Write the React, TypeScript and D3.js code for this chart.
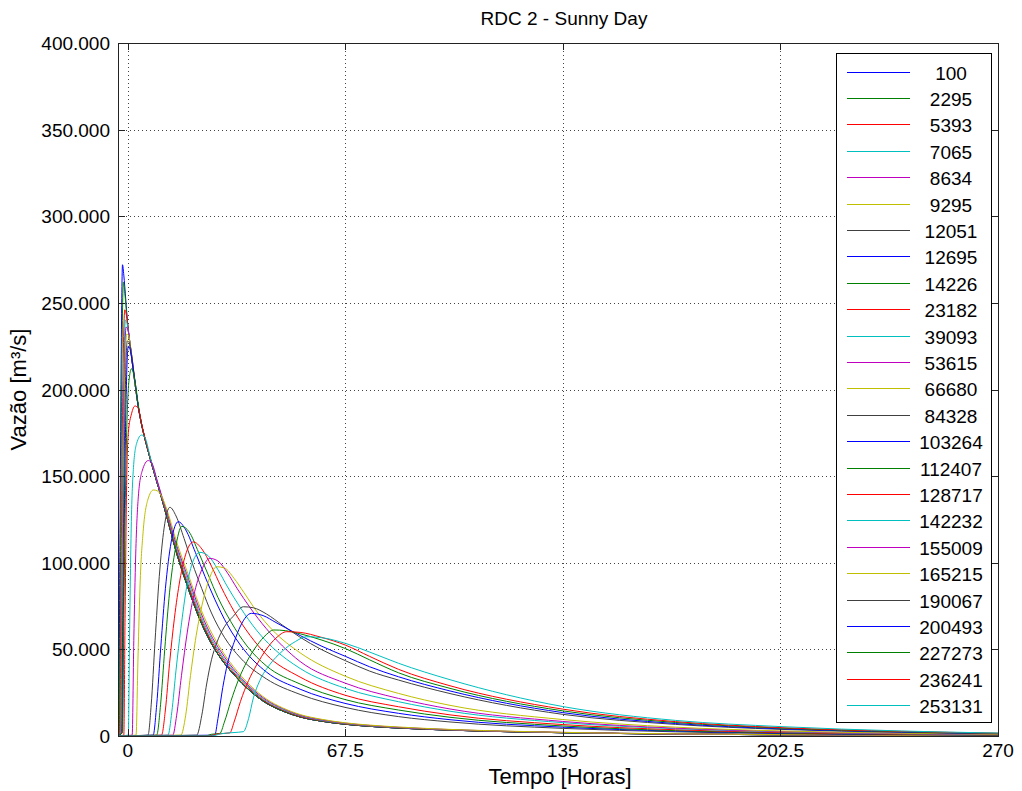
import React from "react";
import * as d3 from "d3";

type P = [number, number];

const seriesNames = ["100","2295","5393","7065","8634","9295","12051","12695","14226","23182","39093","53615","66680","84328","103264","112407","128717","142232","155009","165215","190067","200493","227273","236241","253131"];
const lineColors = ["#0000ff","#008000","#ff0000","#00bfbf","#bf00bf","#bfbf00","#404040"];
const xTicks = [0, 67.5, 135, 202.5, 270];
const xTickLabels = ["0", "67.5", "135", "202.5", "270"];
const yTicks = [0, 50, 100, 150, 200, 250, 300, 350, 400];
const yTickLabels = ["0", "50.000", "100.000", "150.000", "200.000", "250.000", "300.000", "350.000", "400.000"];

// common recession read from the thick bundle
const envelope: P[] = [[0,238],[1,222],[2.3,203],[3.3,190],[4.3,180],[5.5,170.5],[7,160],[9,147],[10.5,137.5],[12,127.5],[15.2,105.5],[19.3,82.5],[22,69],[25.5,55],[29,44.5],[32.7,36],[38,26],[43,19],[48,14.5],[53.5,11],[60,8.6],[67.5,6.8],[75,5.6],[84,4.6],[100,3.4],[120,2.4],[135,1.9],[170,1.1],[203,0.7],[240,0.4],[270,0.25]];

const head1: P[] = [[-3,0],[-2.8,2],[-2.4,110],[-2,220],[-1.6,272],[-1.2,266],[-0.6,252]];
const head2: P[] = [[-3,0],[-2.6,2],[-2.2,110],[-1.8,215],[-1.3,262],[-0.8,254],[-0.2,241]];
const head3: P[] = [[-3,0],[-2.4,2],[-2,100],[-1.5,200],[-0.9,246],[-0.4,243],[0.3,233]];
const head4: P[] = [[-3,0],[-2.2,2],[-1.8,95],[-1.3,195],[-0.7,240],[-0.2,238],[0.5,230],[1.3,218]];
const head5: P[] = [[-3,0],[-2.1,2],[-1.7,90],[-1.2,185],[-0.5,236],[0,235],[0.7,227],[1.5,216]];
const head6: P[] = [[-3,0],[-2,2],[-1.6,85],[-1.1,180],[-0.3,232],[0.3,231],[1,223],[1.7,213]];
const head7: P[] = [[-3,0],[-1.9,2],[-1.5,80],[-1,170],[-0.1,228],[0.5,227],[1.3,219],[2.3,204]];
const head8: P[] = [[-3,0],[-1.7,2],[-1.3,75],[-0.8,160],[0.2,225],[0.9,222],[1.6,213],[2.3,204.5]];
const head9: P[] = [[-3,0],[-1.6,2],[-1.2,70],[-0.6,150],[0.4,205],[1.2,212],[2.3,204.5],[3.3,191]];

const s10: P[] = [[-3,0],[-1.2,0.5],[-0.8,70],[-0.3,148],[0.2,175],[1.2,186],[2.3,190.5],[3.3,189],[4.3,180.5],[5.5,171],[7,160.5],[9,147.5],[10.5,138],[12,128.5],[15.2,107],[19.3,84.5],[22,71],[25.5,56.5],[29,46],[32.7,37],[38,27],[43,19.6],[48,15],[53.5,11.3],[60,8.9],[67.5,7],[75,5.8],[84,4.8],[100,3.5],[120,2.5],[135,2],[170,1.15],[203,0.72],[240,0.42],[270,0.27]];
const s11: P[] = [[-3,0],[0.2,0.5],[0.6,60],[1.1,120],[1.8,155],[2.8,169],[4.3,173.7],[5.3,172.5],[7,161],[9,148],[10.5,138.5],[12,129.5],[15.2,108.5],[19.3,86.5],[22,72.5],[25.5,58],[29,47],[32.7,38],[38,27.6],[43,20.2],[48,15.4],[53.5,11.7],[60,9.1],[67.5,7.2],[75,5.9],[84,4.9],[100,3.6],[120,2.55],[135,2],[170,1.2],[203,0.75],[240,0.45],[270,0.3]];
const s12: P[] = [[-3,0],[1.4,0.5],[1.9,55],[2.5,105],[3.3,138],[4.5,153],[6.4,159],[7.5,157.5],[9,148.5],[10.5,139],[12,130.5],[15.2,110],[19.3,88.5],[22,74.5],[25.5,59.5],[29,48.5],[32.7,39],[38,28.3],[43,20.8],[48,15.9],[53.5,12],[60,9.4],[67.5,7.4],[75,6.1],[84,5],[100,3.7],[120,2.6],[135,2.1],[170,1.2],[203,0.77],[240,0.46],[270,0.3]];
const s13: P[] = [[-3,0],[2.6,0.5],[3.2,45],[3.9,90],[4.8,118],[6.2,136],[8,142],[9.2,141.5],[10.5,138.5],[12,131.5],[15.2,112],[19.3,90.5],[22,76.5],[25.5,61.5],[29,50],[32.7,40.3],[38,29.2],[43,21.4],[48,16.3],[53.5,12.4],[60,9.7],[67.5,7.6],[75,6.3],[84,5.2],[100,3.8],[120,2.7],[135,2.1],[170,1.25],[203,0.8],[240,0.47],[270,0.3]];
const s14: P[] = [[-3,0],[6.3,0.5],[7.3,18],[8.5,55],[9.8,92],[11.3,120],[13.1,132],[15,127],[17.5,114],[20,100],[23,85],[26,71],[30,57],[35,45],[43,33],[53.5,24],[67.5,16.5],[84,11.2],[100,8.1],[135,4.4],[170,2.4],[203,1.4],[240,0.8],[270,0.5]];
const s15: P[] = [[-3,0],[7.9,0.5],[9,18],[10.3,52],[11.7,85],[13.5,112],[15.7,123.7],[18,119],[21,106],[24,92],[27,79],[31,64],[36,50],[43,37],[53.5,27],[67.5,18.8],[84,13.1],[100,9.4],[135,5.1],[170,2.8],[203,1.6],[240,0.9],[270,0.55]];
const s16: P[] = [[-3,0],[9,0.5],[10.2,18],[11.5,50],[13,83],[14.8,108],[16.8,121],[19,118],[22,106],[25,93],[28,80],[32,66],[37,52],[43,40.5],[53.5,30],[67.5,21],[84,15],[100,10.8],[135,5.8],[170,3.1],[203,1.8],[240,1],[270,0.6]];
const s17: P[] = [[-3,0],[10.5,0.5],[11.7,15],[13,42],[14.5,68],[16.2,90],[18.2,106],[20.4,112],[23,108],[26,98],[29,86],[33,72],[38,58],[43,47],[53.5,34],[67.5,23.5],[84,16.9],[100,12.2],[135,6.6],[170,3.6],[203,2],[240,1.1],[270,0.7]];
const s18: P[] = [[-3,0],[12.5,0.5],[13.7,14],[15,38],[16.5,62],[18.3,86],[20.3,101],[22.4,106],[25,104],[28,96],[31,86],[35,74],[40,61],[45,51],[53.5,39],[67.5,27.5],[84,19.8],[100,14.3],[135,7.7],[170,4.2],[203,2.4],[240,1.3],[270,0.8]];
const s19: P[] = [[-3,0],[14,0.5],[15.2,12],[16.7,35],[18.5,60],[20.5,81],[23,96],[25.5,102.5],[28,101],[31,94],[34,85],[38,74],[43,62],[48,52],[53.5,43],[67.5,30.5],[84,21.7],[100,15.6],[135,8.4],[170,4.5],[203,2.6],[240,1.4],[270,0.9]];
const s20: P[] = [[-3,0],[16.5,0.5],[18,12],[19.5,35],[21,55],[23,75],[25,89],[27.6,97.7],[30,97],[33,91],[36,83],[40,72],[45,61],[53.5,48],[67.5,34.5],[84,24.6],[100,17.7],[135,9.5],[170,5.1],[203,2.9],[240,1.6],[270,1]];
const s21: P[] = [[-3,0],[21.4,0.5],[23,12],[24.5,30],[26,44],[27.6,53.6],[30,63],[32.7,69],[35.9,74.6],[39,74],[43,70.5],[48,64],[53.5,57],[60,50],[67.5,43.5],[75,37.5],[84,32.3],[100,24.5],[135,12.5],[170,6.7],[203,3.8],[240,2.1],[270,1.3]];
const s22: P[] = [[-3,0],[27,0.5],[28,10],[29.5,28],[31,42],[33,54],[35,63.5],[38.4,70.8],[42,69.5],[46,65.5],[53.5,58],[60,52],[67.5,46],[75,40],[84,34.2],[100,26],[135,13.5],[170,7.2],[203,4.1],[240,2.3],[270,1.4]];
const s23: P[] = [[-3,0],[24,0],[26,1],[28.6,1.5],[30,8],[32,20],[34.5,33],[37,43],[40,52],[43,58.5],[45.2,61.2],[49,60.8],[53.5,59],[60,55.5],[67.5,50.5],[75,44],[84,36.5],[100,27.5],[135,14.5],[170,7.8],[203,4.5],[240,2.5],[270,1.5]];
const s24: P[] = [[-3,0],[25,0],[28,1.2],[31.7,1.8],[33,8],[35,20],[37.5,32],[40,41],[43,50],[46,56.5],[49.3,60.2],[53.5,59.8],[60,57],[67.5,52.5],[75,46],[84,38.5],[100,29],[135,15.5],[170,8.3],[203,4.8],[240,2.7],[270,1.6]];
const s25: P[] = [[-3,0],[26,0],[29,1.3],[33,2],[35.9,2.5],[37.5,10],[39,22],[41,32],[44,41],[48,49],[52,54.5],[55.5,57.3],[60,56.8],[67.5,53.5],[75,48.5],[84,42],[100,32.5],[135,17],[170,9],[203,5.4],[240,2.9],[270,1.7]];

const withEnvelope = (head: P[]): P[] => {
  const last = head[head.length - 1][0];
  return head.concat(envelope.filter((p) => p[0] > last + 0.2));
};

const allSeries: P[][] = [
  withEnvelope(head1), withEnvelope(head2), withEnvelope(head3), withEnvelope(head4),
  withEnvelope(head5), withEnvelope(head6), withEnvelope(head7), withEnvelope(head8),
  withEnvelope(head9), s10, s11, s12, s13, s14, s15, s16, s17, s18, s19, s20, s21, s22, s23, s24, s25,
];

const W = 1022, H = 791;
const L = 118, R = 998, T = 43, B = 736;
const FONT = "'Liberation Sans', Arial, Helvetica, sans-serif";

export default function App() {
  const x = d3.scaleLinear().domain([-3, 270]).range([L, R]);
  const y = d3.scaleLinear().domain([0, 400]).range([B, T]);
  const line = d3.line<P>().x((d) => x(d[0])).y((d) => y(d[1])).curve(d3.curveMonotoneX);
  const legX = 836, legY = 53, legW = 155, legH = 669;
  const legRow0 = 71.5, legStep = 26.4;

  return (
    <svg width={W} height={H} style={{ position: "absolute", left: 0, top: 0, background: "#fff" }} fontFamily={FONT}>
      <rect x={0} y={0} width={W} height={H} fill="#fff" />
      <defs>
        <clipPath id="plotclip">
          <rect x={L} y={T} width={R - L} height={B - T} />
        </clipPath>
      </defs>
      <rect x={L} y={T} width={R - L} height={B - T} fill="#fff" />
      {/* grid */}
      {xTicks.map((t, i) => (
        <line key={"gx" + i} x1={Math.round(x(t)) + 0.5} x2={Math.round(x(t)) + 0.5} y1={T} y2={B} stroke="#444" strokeWidth={1} strokeDasharray="1,3" />
      ))}
      {yTicks.map((t, i) => (
        <line key={"gy" + i} x1={L} x2={R} y1={Math.round(y(t)) + 0.5} y2={Math.round(y(t)) + 0.5} stroke="#444" strokeWidth={1} strokeDasharray="1,3" />
      ))}
      {/* series */}
      <g clipPath="url(#plotclip)">
        {allSeries.map((s, i) => (
          <path key={"s" + i} d={line(s) || ""} fill="none" stroke={lineColors[i % 7]} strokeWidth={1} />
        ))}
      </g>
      {/* frame */}
      <rect x={L + 0.5} y={T + 0.5} width={R - L} height={B - T} fill="none" stroke="#222" strokeWidth={1} />
      {/* ticks */}
      {xTicks.map((t, i) => (
        <g key={"tx" + i}>
          <line x1={Math.round(x(t)) + 0.5} x2={Math.round(x(t)) + 0.5} y1={B} y2={B - 7} stroke="#222" />
          <line x1={Math.round(x(t)) + 0.5} x2={Math.round(x(t)) + 0.5} y1={T} y2={T + 7} stroke="#222" />
          <text x={x(t)} y={B + 21} fontSize={19} textAnchor="middle" fill="#000">{xTickLabels[i]}</text>
        </g>
      ))}
      {yTicks.map((t, i) => (
        <g key={"ty" + i}>
          <line x1={L} x2={L + 7} y1={Math.round(y(t)) + 0.5} y2={Math.round(y(t)) + 0.5} stroke="#222" />
          <line x1={R} x2={R - 7} y1={Math.round(y(t)) + 0.5} y2={Math.round(y(t)) + 0.5} stroke="#222" />
          <text x={L - 8} y={y(t) + 7} fontSize={19} textAnchor="end" fill="#000">{yTickLabels[i]}</text>
        </g>
      ))}
      {/* legend */}
      <rect x={legX + 0.5} y={legY + 0.5} width={legW} height={legH} fill="#fff" stroke="#000" strokeWidth={1} />
      {seriesNames.map((n, i) => {
        const yy = Math.round(legRow0 + i * legStep) + 0.5;
        return (
          <g key={"lg" + i}>
            <line x1={847} x2={910} y1={yy} y2={yy} stroke={lineColors[i % 7]} strokeWidth={1} />
            <text x={951} y={yy + 7} fontSize={19} textAnchor="middle" fill="#000">{n}</text>
          </g>
        );
      })}
      {/* titles */}
      <text x={564} y={25} fontSize={19} textAnchor="middle" fill="#000">RDC 2 - Sunny Day</text>
      <text x={560} y={784} fontSize={22} textAnchor="middle" fill="#000">Tempo [Horas]</text>
      <text transform={`translate(26, ${(T + B) / 2}) rotate(-90)`} fontSize={22} textAnchor="middle" fill="#000">Vazão [m³/s]</text>
    </svg>
  );
}
